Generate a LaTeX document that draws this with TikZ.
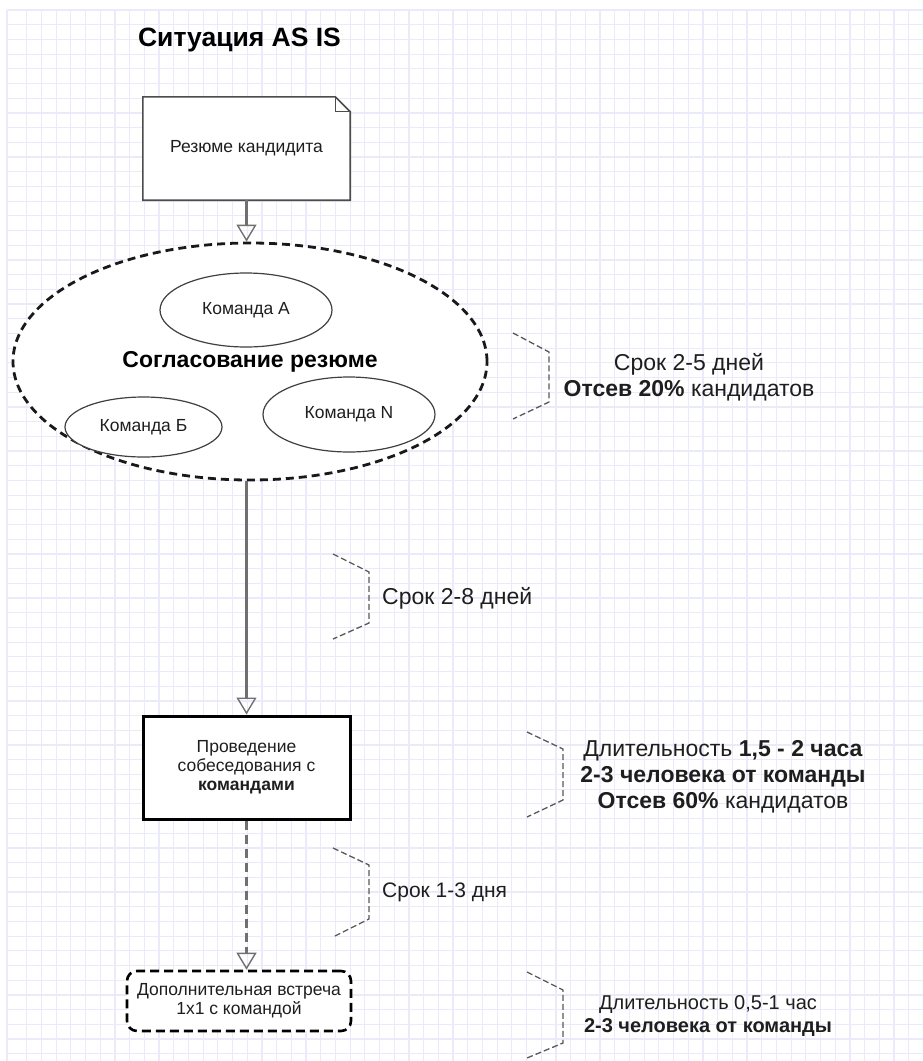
\documentclass[tikz,border=0pt]{standalone}
\usepackage{fontspec}
\setmainfont{Liberation Sans}
\usepackage{tikz}
\usetikzlibrary{arrows.meta}
\usetikzlibrary{shapes}
\usetikzlibrary{calc}
\usetikzlibrary{positioning}

\definecolor{gridcol}{RGB}{234,234,250}
\definecolor{flowgray}{RGB}{112,112,112}
\definecolor{txtcol}{RGB}{30,30,30}

\begin{document}
\begin{tikzpicture}[x=1pt, y=-1pt,
    flow/.style={draw=flowgray, line width=2.6pt,
      -{Triangle[open, length=17pt, width=20pt, line width=1.4pt]}},
    team/.style={draw=black!75, ellipse, line width=1.2pt, fill=white, inner sep=0pt,
      font=\fontsize{17.5}{19}\selectfont, text=txtcol},
    bracket/.style={draw=black!65, dashed, line width=1.3pt, dash pattern=on 6pt off 3pt},
    note/.style={align=center, font=\fontsize{23}{26}\selectfont, text=txtcol, inner sep=0pt}]

      \fill[white] (0,0) rectangle (923,1061);
      \useasboundingbox (0,0) rectangle (923,1061);

      % grid
      \foreach \i in {0,...,61}
        \draw[gridcol, line width=1.2pt] (26.7+\i*14.7, 10) -- (26.7+\i*14.7, 1061);
      \draw[gridcol, line width=1.2pt] (7, 10) -- (7, 1061);
      \foreach \j in {0,...,71}
        \draw[gridcol, line width=1.2pt] (7, 10+\j*14.7) -- (923, 10+\j*14.7);

      \node[font=\bfseries\fontsize{26.5}{30}\selectfont, text=black] (title) at (239.5, 40) {Ситуация AS IS};

      % candidate resume (document shape)
      \node[minimum width=207pt, minimum height=103pt] (resume) at (246.5, 148.5) {};
      \filldraw[fill=white, draw=black!70, line width=1.6pt]
        (resume.north west) -- ($(resume.north east)+(-15,0)$) -- ($(resume.north east)+(0,15)$)
        -- (resume.south east) -- (resume.south west) -- cycle;
      \draw[draw=black!70, line width=1.2pt]
        ($(resume.north east)+(-15,0)$) -- ($(resume.north east)+(-15,15)$) -- ($(resume.north east)+(0,15)$);
      \node[font=\fontsize{17.5}{19}\selectfont, text=txtcol] (resumetext) at (resume) {Резюме кандидита};

      % approval
      \node[draw=black!90, ellipse, dashed, dash pattern=on 8pt off 5pt, line width=2.8pt, fill=white,
        minimum width=474pt, minimum height=237pt, inner sep=0pt,
        font=\bfseries\fontsize{23}{26}\selectfont, text=black] (agree) at (250, 361.5) {Согласование резюме};
      \node[team, minimum width=172pt, minimum height=74pt] (teamA) at (246, 310) {Команда A};
      \node[team, minimum width=157pt, minimum height=60pt] (teamB) at (143.5, 427) {Команда Б};
      \node[team, minimum width=172pt, minimum height=75pt] (teamN) at (349, 414.5) {Команда N};

      % interview
      \node[draw=black, line width=3pt, fill=white, minimum width=207pt, minimum height=103pt,
        align=center, font=\fontsize{17.5}{19}\selectfont, text=txtcol]
        (interview) at (246.5, 767.5) {Проведение\\собеседования с\\\textbf{командами}};

      % extra meeting
      \node[draw=black, dashed, dash pattern=on 9pt off 5pt, line width=2.6pt, rounded corners=10pt,
        fill=white, minimum width=224pt, minimum height=60pt, align=center,
        font=\fontsize{17.5}{19}\selectfont, text=txtcol]
        (meeting) at (239, 1001) {Дополнительная встреча\\1х1 с командой};

      % connectors
      \draw[flow] (resume.south) -- (resume.south |- agree.north);
      \draw[flow] (interview.north |- agree.south) -- (interview.north);
      \draw[flow, dash pattern=on 9pt off 5pt] (interview.south) -- (interview.south |- meeting.north);

      % brackets and notes
      \draw[bracket] (513, 333) -- (549, 352) -- (549, 402) -- (513, 419);
      \node[note] (note1) at (689, 377) {Срок 2-5 дней\\\textbf{Отсев 20\%} кандидатов};

      \draw[bracket] (333, 554) -- (369, 572) -- (369, 623) -- (333, 639);
      \node[note, anchor=west] (note2) at (382, 598) {Срок 2-8 дней};

      \draw[bracket] (527, 732) -- (563, 749) -- (563, 800) -- (527, 817);
      \node[note] (note3) at (723, 777) {Длительность \textbf{1,5 - 2 часа}\\\textbf{2-3 человека от команды}\\\textbf{Отсев 60\%} кандидатов};

      \draw[bracket] (333, 848) -- (369, 865) -- (369, 919) -- (333, 937);
      \node[note, anchor=west, font=\fontsize{21}{24}\selectfont] (note4) at (382, 892) {Срок 1-3 дня};

      \draw[bracket] (527, 972) -- (563, 990) -- (563, 1043) -- (527, 1058);
      \node[note, font=\fontsize{20}{23}\selectfont] (note5) at (708, 1016) {Длительность 0,5-1 час\\\textbf{2-3 человека от команды}};
\end{tikzpicture}
\end{document}
